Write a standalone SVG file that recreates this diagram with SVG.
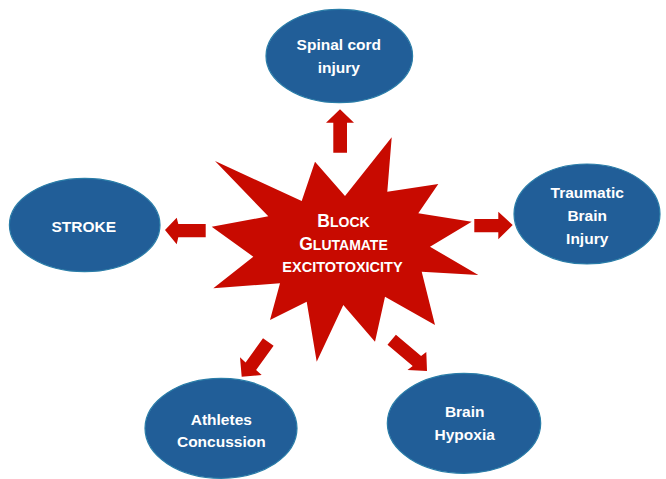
<svg xmlns="http://www.w3.org/2000/svg" width="666" height="479" viewBox="0 0 666 479">
<style>
.node ellipse{fill:#215E98;stroke:#2A7DA8;stroke-width:1.2}
.node text{font-family:"Liberation Sans",Arial,sans-serif;font-weight:bold;font-size:15.5px;fill:#FFFFFF;text-anchor:middle}
.arrow{fill:#C80A00}
.star{fill:#C80A00}
.star-text{font-family:"Liberation Sans",Arial,sans-serif;font-weight:bold;fill:#FFFFFF;text-anchor:middle}
</style>
<rect width="666" height="479" fill="#FFFFFF"/>
<g id="center">
<polygon class="star" points="215,161 301.7,201 315,161.7 345,196 391.7,137.3 387.3,191.7 438.3,184 418.3,213.3 471.7,221.7 430,246.7 478.3,275 421.7,271.7 435,325 385,296.7 375,341.7 343.3,305 316.7,361.7 306.7,301.7 270,320 280,283.3 213.3,288.3 253.3,256.7 211.7,226.7 268.3,216.3"/>
<text class="star-text" x="343.5" y="226.7"><tspan font-size="17.5">B</tspan><tspan font-size="14">LOCK</tspan></text>
<text class="star-text" x="343.5" y="250"><tspan font-size="17.5">G</tspan><tspan font-size="14">LUTAMATE</tspan></text>
<text class="star-text" x="342.5" y="271.7" font-size="14.5">EXCITOTOXICITY</text>
</g>
<g id="connectors">
<polygon class="arrow" points="340,109.3 354,122.7 347,122.7 347,152.7 333.3,152.7 333.3,122.7 326,122.7"/>
<polygon class="arrow" points="165,230 176.7,217.7 178.3,224 205.7,224 205.7,237.3 178.3,237.3 176.7,244.3"/>
<polygon class="arrow" points="474.3,219 498.3,219 498.3,211.7 512.7,225 498.3,239.3 498.3,232.3 474.3,232.3"/>
<polygon class="arrow" points="263,338.2 273.6,345.8 256.1,370 261.7,375 241.7,376.7 240,357.3 245.6,362.4"/>
<polygon class="arrow" points="395.9,334.7 387.5,344.7 412.7,366 407.5,370 427,371 426.3,352 421.1,356"/>
</g>
<g id="spinal" class="node">
<ellipse cx="339.3" cy="56" rx="73.3" ry="46.7"/>
<text x="338.8" y="50">Spinal cord</text>
<text x="338.8" y="72.5">injury</text>
</g>
<g id="stroke" class="node">
<ellipse cx="84.7" cy="225" rx="75.3" ry="46.7"/>
<text x="83.8" y="232">STROKE</text>
</g>
<g id="tbi" class="node">
<ellipse cx="587" cy="214" rx="73" ry="50"/>
<text x="587.2" y="198.3">Traumatic</text>
<text x="587.2" y="221.3">Brain</text>
<text x="587.2" y="243.8">Injury</text>
</g>
<g id="athletes" class="node">
<ellipse cx="221" cy="428.3" rx="76" ry="50"/>
<text x="221.3" y="425">Athletes</text>
<text x="221.3" y="447.3">Concussion</text>
</g>
<g id="hypoxia" class="node">
<ellipse cx="464" cy="423.3" rx="76.7" ry="50"/>
<text x="464.7" y="417.3">Brain</text>
<text x="464.7" y="440">Hypoxia</text>
</g>
</svg>
